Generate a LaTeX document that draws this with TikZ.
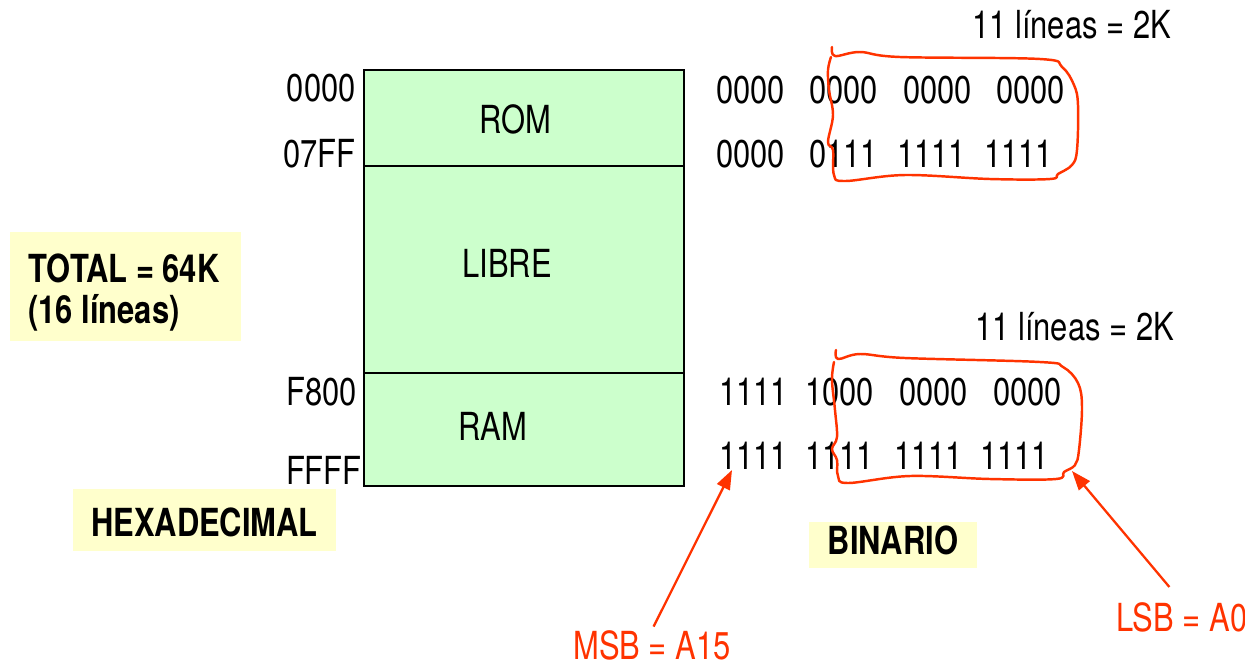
\documentclass[tikz,border=0pt]{standalone}
\usepackage{fontspec}
\setmainfont[FakeStretch=0.8]{TeX Gyre Heros}
\usetikzlibrary{arrows.meta}
\definecolor{memgreen}{HTML}{CCFFCC}
\definecolor{noteyellow}{HTML}{FFFFCC}
\definecolor{markred}{HTML}{FF3300}
\begin{document}
\begin{tikzpicture}[x=0.02cm,y=-0.02cm,
  txt/.style={font=\fontsize{22}{26}\selectfont, inner sep=0pt},
  btxt/.style={font=\fontsize{22}{26}\selectfont\bfseries, inner sep=0pt},
  rtxt/.style={txt, text=markred},
  membox/.style={draw=black, fill=memgreen, line width=1.2pt},
  notebox/.style={fill=noteyellow, draw=none, inner sep=0pt},
  loop/.style={draw=markred, line width=1.4pt, line cap=round, line join=round},
  redarrow/.style={draw=markred, line width=1.3pt, -{Triangle[length=11pt,width=8pt]}}
]
\useasboundingbox (0,0) rectangle (1245,664);

% memory map
\draw[membox] (364,70) rectangle (684,166);
\draw[membox] (364,166) rectangle (684,373);
\draw[membox] (364,373) rectangle (684,486);
\node[txt, anchor=base] (rom) at (515,133) {ROM};
\node[txt, anchor=base] (libre) at (507,277) {LIBRE};
\node[txt, anchor=base] (ram) at (493,440) {RAM};

% hexadecimal addresses
\node[txt, anchor=base east] (h0) at (356,101) {0000};
\node[txt, anchor=base east] (h1) at (356,167) {07FF};
\node[txt, anchor=base east] (h2) at (357,405) {F800};
\node[txt, anchor=base east] (h3) at (362,484) {FFFF};

% binary addresses
\node[txt, anchor=base west] (b11) at (716,103) {0000};
\node[txt, anchor=base west] (b12) at (809,103) {0000};
\node[txt, anchor=base west] (b13) at (903,103) {0000};
\node[txt, anchor=base west] (b14) at (996,103) {0000};
\node[txt, anchor=base west] (b21) at (716,167) {0000};
\node[txt, anchor=base west] (b22) at (809,167) {0111};
\node[txt, anchor=base west] (b23) at (897,167) {1111};
\node[txt, anchor=base west] (b24) at (984,167) {1111};
\node[txt, anchor=base west] (b31) at (719,405) {1111};
\node[txt, anchor=base west] (b32) at (805,405) {1000};
\node[txt, anchor=base west] (b33) at (899,405) {0000};
\node[txt, anchor=base west] (b34) at (993,405) {0000};
\node[txt, anchor=base west] (b41) at (719,469) {1111};
\node[txt, anchor=base west] (b42) at (805,469) {1111};
\node[txt, anchor=base west] (b43) at (894,469) {1111};
\node[txt, anchor=base west] (b44) at (980,469) {1111};

\node[txt, anchor=base west] (lin1) at (972,38) {11 líneas = 2K};
\node[txt, anchor=base west] (lin2) at (975,340) {11 líneas = 2K};

% red hand-drawn loops
\draw[loop] plot[smooth, tension=0.6] coordinates {
  (832,47) (835,56) (860,52) (900,57) (1040,59) (1062,67) (1074,85)
  (1078,105) (1077,150) (1072,165) (1058,174) (1050,179) (990,179)
  (905,175) (845,181) (834,175) (833,150) (828,142) (833,115) (829,90)
  (828,70) (831,57)};
\draw[loop] plot[smooth, tension=0.6] coordinates {
  (836,350) (838,359) (860,354) (905,358) (1040,362) (1063,367) (1078,383)
  (1082,407) (1079,450) (1075,465) (1064,472) (1056,479) (990,479)
  (910,476) (848,483) (838,476) (837,460) (832,449) (837,437) (835,410)
  (832,380) (834,362)};

% yellow notes
\node[notebox, minimum width=4.62cm, minimum height=2.18cm] (totalbox) at (125.5,286.5) {};
\node[btxt, anchor=base west] (total1) at (28,282) {TOTAL = 64K};
\node[btxt, anchor=base west] (total2) at (28,323) {(16 líneas)};
\node[notebox, minimum width=5.26cm, minimum height=1.24cm] (hexbox) at (204.5,520) {};
\node[btxt] (hex) at (204.5,522) {HEXADECIMAL};
\node[notebox, minimum width=3.36cm, minimum height=0.92cm] (binbox) at (893,545) {};
\node[btxt] (bin) at (893,540) {BINARIO};

% MSB / LSB
\node[rtxt, anchor=base west] (msb) at (573,659) {MSB = A15};
\node[rtxt, anchor=base west] (lsb) at (1116,631) {LSB = A0};
\coordinate (msbtip) at (732,470);
\coordinate (lsbtip) at (1072,471);
\draw[redarrow, shorten <=2pt] (msb.north) -- (msbtip);
\draw[redarrow, shorten <=11pt] (lsb.north) -- (lsbtip);
\end{tikzpicture}
\end{document}
